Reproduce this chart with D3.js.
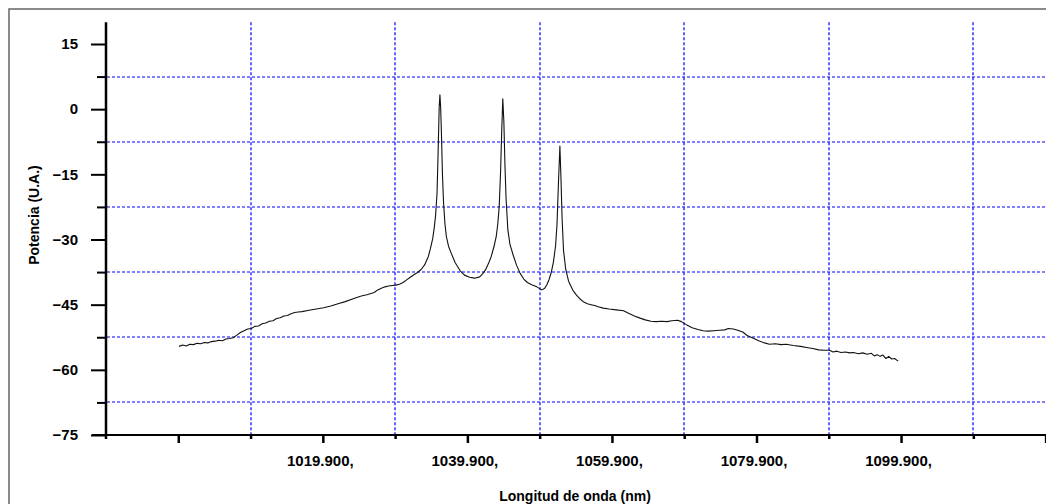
<!DOCTYPE html>
<html><head><meta charset="utf-8">
<script src="https://cdn.jsdelivr.net/npm/d3@7"></script>
<style>
html,body{margin:0;padding:0;background:#fff;overflow:hidden;}
svg{display:block;font-family:"Liberation Sans",Arial,sans-serif;}
</style></head><body>
<svg id="c" width="1046" height="504"></svg>
<script>
const wavelength = [1000.0,1000.5,1001.0,1001.5,1002.0,1002.5,1003.0,1003.5,1004.0,1004.5,1005.0,1005.5,1006.0,1006.5,1007.0,1007.5,1008.0,1008.5,1009.0,1009.5,1010.0,1010.5,1011.0,1011.5,1012.0,1012.5,1013.0,1013.5,1014.0,1014.5,1015.0,1015.5,1016.0,1016.5,1017.0,1018.0,1019.0,1020.0,1021.0,1022.0,1023.0,1024.0,1025.0,1025.5,1026.0,1027.0,1027.5,1028.0,1028.5,1029.0,1029.5,1030.0,1030.5,1031.0,1031.5,1032.0,1032.5,1033.0,1033.5,1034.0,1034.5,1034.8,1035.1,1035.3,1035.5,1035.7,1035.85,1036.0,1036.1,1036.2,1036.3,1036.45,1036.6,1036.8,1037.0,1037.3,1037.7,1038.2,1038.9,1039.5,1040.2,1040.9,1041.6,1042.0,1042.4,1042.8,1043.2,1043.6,1043.9,1044.1,1044.3,1044.5,1044.65,1044.8,1044.95,1045.1,1045.25,1045.5,1045.8,1046.2,1046.7,1047.2,1047.7,1048.2,1048.8,1049.5,1050.2,1050.6,1050.9,1051.2,1051.5,1051.8,1052.1,1052.3,1052.5,1052.7,1052.85,1053.0,1053.2,1053.5,1053.9,1054.5,1055.0,1055.5,1056.0,1056.5,1057.0,1057.5,1058.0,1058.7,1059.5,1060.5,1061.5,1062.2,1063.0,1063.8,1064.5,1065.3,1066.0,1066.8,1067.5,1068.2,1069.0,1069.5,1070.2,1071.0,1071.8,1072.5,1073.2,1074.0,1074.8,1075.5,1076.0,1076.7,1077.3,1078.0,1078.6,1079.4,1080.2,1081.0,1081.7,1082.5,1083.3,1084.0,1085.0,1086.0,1087.0,1087.7,1088.5,1089.3,1090.0,1090.5,1091.0,1091.6,1092.2,1092.8,1093.3,1094.0,1094.6,1095.2,1095.8,1096.2,1096.6,1097.0,1097.4,1097.8,1098.2,1098.6,1099.0,1099.5];
const power = [-54.6,-54.3,-54.5,-54.1,-54.2,-53.9,-54.0,-53.7,-53.8,-53.5,-53.4,-53.2,-53.3,-52.9,-52.8,-52.6,-52.0,-51.4,-51.0,-50.6,-50.5,-50.0,-49.9,-49.4,-49.2,-48.8,-48.7,-48.2,-48.0,-47.6,-47.5,-47.1,-46.8,-46.7,-46.6,-46.3,-46.0,-45.7,-45.3,-44.8,-44.3,-43.7,-43.1,-42.9,-42.7,-42.2,-41.6,-41.2,-40.9,-40.7,-40.6,-40.5,-40.3,-39.9,-39.3,-38.7,-38.1,-37.6,-36.9,-35.8,-33.9,-32.0,-29.8,-27.5,-24.5,-19.4,-10.0,0.5,3.3,0.5,-5.0,-15.0,-21.5,-26.5,-29.4,-31.6,-33.3,-35.3,-37.2,-38.2,-38.7,-38.9,-38.6,-37.9,-37.0,-35.6,-33.9,-31.5,-29.2,-26.5,-22.5,-14.0,-5.0,2.4,-3.0,-13.0,-20.5,-27.8,-31.2,-33.4,-35.9,-37.8,-39.1,-39.9,-40.4,-40.9,-41.6,-41.2,-40.4,-39.2,-37.6,-35.2,-31.5,-26.5,-17.0,-8.5,-16.0,-25.0,-32.5,-36.8,-39.6,-41.7,-42.8,-43.7,-44.4,-44.8,-45.0,-45.2,-45.5,-45.8,-46.0,-46.2,-46.4,-47.0,-47.6,-48.1,-48.5,-48.8,-48.9,-48.8,-48.9,-48.7,-48.6,-48.9,-49.6,-50.3,-50.7,-51.0,-51.1,-51.0,-50.9,-50.8,-50.5,-50.6,-50.9,-51.3,-52.1,-52.7,-53.3,-53.8,-54.1,-54.0,-54.2,-54.1,-54.4,-54.6,-54.9,-55.1,-55.4,-55.5,-55.5,-55.9,-55.7,-56.0,-55.9,-56.1,-56.0,-56.3,-56.1,-56.4,-56.2,-56.8,-56.5,-56.9,-56.6,-57.4,-56.9,-57.5,-57.4,-58.0];
const yMajorTicks = [15,0,-15,-30,-45,-60,-75];
const yMinorTicks = [7.5,-7.5,-22.5,-37.5,-52.5,-67.5];
const xMajorTicks = [999.9,1019.9,1039.9,1059.9,1079.9,1099.9,1119.9];
const xTickLabels = ["","1019.900,","1039.900,","1059.900,","1079.900,","1099.900,",""];
const xMinorTicks = [1009.9,1029.9,1049.9,1069.9,1089.9,1109.9];
const xTitle = "Longitud de onda (nm)";
const yTitle = "Potencia (U.A.)";

const svg = d3.select("#c");
const x = d3.scaleLinear().domain([989.9,1119.9]).range([106,1045.6]);
const y = d3.scaleLinear().domain([-75,15]).range([435,44]);
const yTop = y(20);

// frame
svg.append("rect").attr("x",9).attr("y",9).attr("width",1200).attr("height",700)
  .attr("fill","none").attr("stroke","#6e6e6e").attr("stroke-width",1.6);

// grid
const grid = svg.append("g").attr("stroke","#0000ff").attr("stroke-width",1.2).attr("stroke-dasharray","3,2");
grid.selectAll("line.h").data(yMinorTicks).join("line").attr("class","h")
  .attr("x1",107).attr("x2",1046).attr("y1",d=>Math.round(y(d))).attr("y2",d=>Math.round(y(d)));
grid.selectAll("line.v").data(xMinorTicks).join("line").attr("class","v")
  .attr("y1",yTop).attr("y2",435).attr("x1",d=>Math.round(x(d))).attr("x2",d=>Math.round(x(d)));

// y axis
const yAxMaj = d3.axisLeft(y).tickValues(yMajorTicks).tickSize(15).tickPadding(13).tickFormat(d3.format("d"));
const gy = svg.append("g").attr("transform","translate(106,0)").call(yAxMaj);
gy.select(".domain").remove();
gy.selectAll(".tick line").attr("stroke","#000").attr("stroke-width",2);
gy.selectAll(".tick text").attr("font-size",15).attr("font-weight","bold").attr("fill","#000")
  .attr("font-family","'Liberation Sans',Arial,sans-serif");
const gyMin = svg.append("g").attr("transform","translate(106,0)")
  .call(d3.axisLeft(y).tickValues(yMinorTicks).tickSize(9).tickFormat(""));
gyMin.select(".domain").remove();
gyMin.selectAll(".tick line").attr("stroke","#000").attr("stroke-width",2);
svg.append("line").attr("x1",106).attr("x2",106).attr("y1",yTop).attr("y2",439)
  .attr("stroke","#000").attr("stroke-width",2.5);

// x axis
const gx = svg.append("g").attr("transform","translate(0,435)")
  .call(d3.axisBottom(x).tickValues(xMajorTicks).tickSize(8).tickPadding(12)
    .tickFormat((d,i)=>xTickLabels[i]));
gx.select(".domain").remove();
gx.selectAll(".tick line").attr("stroke","#000").attr("stroke-width",2.5);
gx.selectAll(".tick text").attr("font-size",15).attr("font-weight","bold").attr("fill","#000")
  .attr("font-family","'Liberation Sans',Arial,sans-serif").attr("dx",-3);
const gxMin = svg.append("g").attr("transform","translate(0,435)")
  .call(d3.axisBottom(x).tickValues(xMinorTicks).tickSize(4).tickFormat(""));
gxMin.select(".domain").remove();
gxMin.selectAll(".tick line").attr("stroke","#000").attr("stroke-width",2.5);
svg.append("line").attr("x1",92).attr("x2",1046).attr("y1",435).attr("y2",435)
  .attr("stroke","#000").attr("stroke-width",2);

// titles
svg.append("text").attr("x",575).attr("y",501).attr("text-anchor","middle")
  .attr("font-size",14).attr("font-weight","bold").text(xTitle);
svg.append("text").attr("transform","translate(39,215) rotate(-90)").attr("text-anchor","middle")
  .attr("font-size",14).attr("font-weight","bold").text(yTitle);

// data line
const pts = wavelength.map((w,i)=>[w,power[i]]);
svg.append("path").datum(pts).attr("fill","none").attr("stroke","#111").attr("stroke-width",1.1)
  .attr("stroke-linejoin","round")
  .attr("d",d3.line().x(d=>x(d[0])).y(d=>y(d[1])));
</script></body></html>
